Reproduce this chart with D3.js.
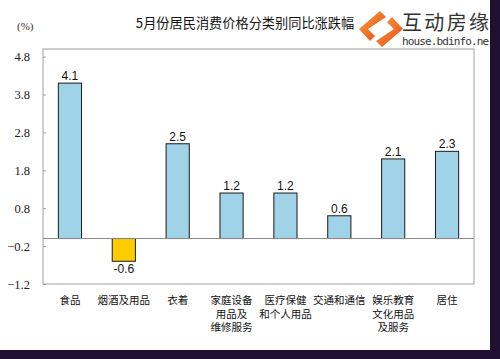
<!DOCTYPE html>
<html><head><meta charset="utf-8">
<script src="https://cdn.jsdelivr.net/npm/d3@7"></script>
<style>html,body{margin:0;padding:0;background:#201030;}svg{display:block;}</style>
</head><body>
<script>
const categories = [["食品"],["烟酒及用品"],["衣着"],["家庭设备","用品及","维修服务"],["医疗保健","和个人用品"],["交通和通信"],["娱乐教育","文化用品","及服务"],["居住"]];
const values = [4.1,-0.6,2.5,1.2,1.2,0.6,2.1,2.3];
const tickValues = [-1.2,-0.2,0.8,1.8,2.8,3.8,4.8];
const title = "5月份居民消费价格分类别同比涨跌幅";

const W=500,H=359;
const svg=d3.select("body").append("svg").attr("width",W).attr("height",H);
svg.append("rect").attr("width",W).attr("height",H).attr("fill","#201030");
svg.append("rect").attr("width",490).attr("height",350).attr("fill","#ffffff");

const L=43,R=474,T=49,B=284;
const x=d3.scaleBand().domain(d3.range(categories.length)).range([L,R]).paddingInner(0.57).paddingOuter(0.285);
const y=d3.scaleLinear().domain([-1.2,5.0]).range([B,T]);

// frame
svg.append("rect").attr("x",L).attr("y",T).attr("width",R-L).attr("height",B-T)
  .attr("fill","none").attr("stroke","#a0a0a0").attr("stroke-width",1);

// y axis
const ya=svg.append("g").attr("transform",`translate(${L},0)`)
  .call(d3.axisLeft(y).tickValues(tickValues).tickSize(-3).tickPadding(13).tickFormat(d3.format(".1f")));
ya.attr("font-family",null);
ya.select(".domain").remove();
ya.selectAll(".tick line").attr("stroke","#a0a0a0");
ya.selectAll(".tick text").style("font-family","'Liberation Serif','DejaVu Serif',serif").attr("font-size",12.5).attr("fill","#222");

// bars
svg.selectAll("rect.bar").data(values).join("rect").attr("class","bar")
  .attr("x",(d,i)=>x(i)).attr("width",x.bandwidth())
  .attr("y",d=>y(Math.max(0,d))).attr("height",d=>Math.abs(y(d)-y(0)))
  .attr("fill",d=>d<0?"#ffcc00":"#a0d2e8").attr("stroke","#1a1a1a").attr("stroke-width",1);

// zero line
svg.append("line").attr("x1",L).attr("x2",R).attr("y1",y(0)).attr("y2",y(0)).attr("stroke","#8a8a8a").attr("stroke-width",1);

// value labels
svg.selectAll("text.val").data(values).join("text").attr("class","val")
  .attr("x",(d,i)=>x(i)+x.bandwidth()/2)
  .attr("y",d=>d<0?y(d)+12:y(d)-3)
  .attr("text-anchor","middle").attr("font-family","'Liberation Sans',Arial,sans-serif").attr("font-size",12).attr("fill","#111")
  .text(d=>d.toFixed(1));

// category labels
categories.forEach((lines,i)=>{
  lines.forEach((s,j)=>svg.append("text").attr("class","cat")
    .attr("text-anchor","middle").attr("font-family","'Noto Sans CJK SC',sans-serif").attr("font-size",10.5).attr("fill","#111")
    .attr("x",x(i)+x.bandwidth()/2).attr("y",304+j*13.5).text(s));
});

// title and unit
svg.append("text").attr("x",245).attr("y",28).attr("text-anchor","middle").attr("font-family","'Noto Sans CJK SC',sans-serif").attr("font-size",13.2).attr("fill","#111").text(title);
svg.append("text").attr("x",17).attr("y",30).attr("font-family","'Liberation Serif',serif").attr("font-size",11).attr("fill","#333").text("(%)");

// watermark logo
const lg=svg.append("g");
const grad=svg.append("defs").append("linearGradient").attr("id","og").attr("x1","0").attr("y1","0").attr("x2","1").attr("y2","1");
grad.append("stop").attr("offset","0").attr("stop-color","#f9a23a");
grad.append("stop").attr("offset","1").attr("stop-color","#e8461a");
lg.append("rect").attr("x",358).attr("y",8).attr("width",132).attr("height",40).attr("fill","#ffffff");
lg.append("path").attr("d","M380,11 L386,17 L368,29 L375,36 L370,41 L359,29 Z").attr("fill","url(#og)");
lg.append("path").attr("d","M382,47 L376,41 L394,29 L387,22 L392,17 L403,29 Z").attr("fill","url(#og)");
lg.append("text").attr("x",402).attr("y",30).attr("font-family","'Noto Sans CJK SC',sans-serif").attr("font-size",20).attr("textLength",87).attr("fill","#333").text("互动房缘");
lg.append("text").attr("x",402).attr("y",45).attr("font-family","'DejaVu Sans Mono',monospace").attr("font-size",11).attr("textLength",87).attr("fill","#333").text("house.bdinfo.ne");
svg.append("rect").attr("x",490).attr("y",0).attr("width",10).attr("height",H).attr("fill","#201030");
svg.append("rect").attr("x",0).attr("y",350).attr("width",W).attr("height",9).attr("fill","#201030");
</script>
</body></html>
